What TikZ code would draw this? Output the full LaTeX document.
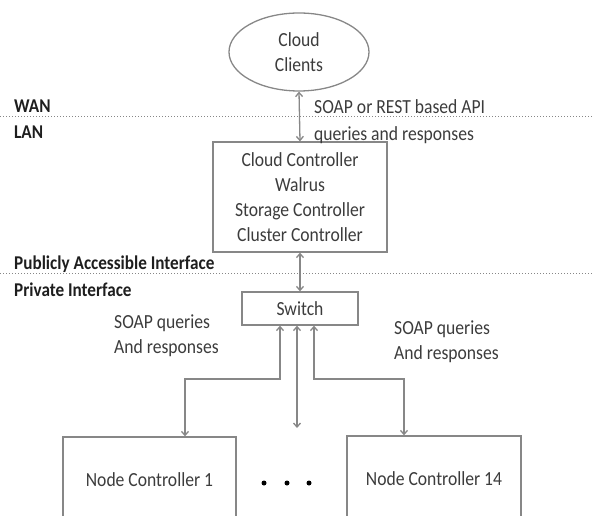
\documentclass[tikz,border=0pt]{standalone}
\usepackage{fontspec}
\setmainfont{Carlito}[FakeStretch=0.88]
\usetikzlibrary{arrows.meta,shapes.geometric}
\definecolor{linec}{RGB}{135,135,135}
\definecolor{textc}{RGB}{60,60,60}
\definecolor{labc}{RGB}{30,30,30}
\begin{document}
\begin{tikzpicture}[x=1pt,y=-1pt,
  every node/.style={font=\fontsize{20}{25}\selectfont, text=textc, inner sep=0pt},
  boxnode/.style={draw=linec, line width=1.3pt, align=center},
  lab/.style={anchor=west, font=\bfseries\fontsize{19.5}{22}\selectfont, text=labc},
  note/.style={anchor=west, align=left},
  conn/.style={draw=linec, line width=1.3pt, {Straight Barb[length=4pt,width=7pt]}-{Straight Barb[length=4pt,width=7pt]}},
  sep/.style={draw=linec, line width=1pt, dotted}]
\useasboundingbox (0,0) rectangle (592,516);
\clip (0,0) rectangle (592,516);
% dotted separators
\draw[sep] (0,117) -- (592,117);
\draw[sep] (0,273) -- (592,273);
% region labels
\node[lab] (wan) at (14,106) {WAN};
\node[lab] (lan) at (14,132) {LAN};
\node[lab] (pub) at (14,264) {Publicly Accessible Interface};
\node[lab] (priv) at (14,290) {Private Interface};
% nodes
\node[boxnode, ellipse, minimum width=140, minimum height=78] (clients) at (299,52) {Cloud\\Clients};
\node[boxnode, minimum width=174, minimum height=110] (cc) at (300,197) {Cloud Controller\\Walrus\\Storage Controller\\Cluster Controller};
\node[boxnode, minimum width=116, minimum height=33] (sw) at (300,308.5) {Switch};
\node[boxnode, minimum width=173, minimum height=86] (nc1) at (149.5,480) {Node Controller 1};
\node[boxnode, minimum width=174, minimum height=86] (nc14) at (434,479) {Node Controller 14};
% dots
\node[circle, fill=black, minimum size=5pt] (d1) at (264,483) {};
\node[circle, fill=black, minimum size=5pt] (d2) at (287,483) {};
\node[circle, fill=black, minimum size=5pt] (d3) at (309,483) {};
% annotations
\node[note] (api) at (314,107) {SOAP or REST based API};
\node[note] (api2) at (314,135) {queries and responses};
\node[note] (sq1) at (114,336) {SOAP queries\\And responses};
\node[note] (sq2) at (394,342) {SOAP queries\\And responses};
% connectors
\draw[conn] (clients.south) -- (cc.north);
\draw[conn] (cc.south) -- (sw.north);
\coordinate (swl) at (280,0);
\coordinate (swm) at (297,0);
\coordinate (swr) at (314,0);
\coordinate (mid) at (297,428);
\draw[conn] (sw.south -| swl) -- (280,379) -- (185,379) -- (nc1.north -| 185,0);
\draw[conn] (sw.south -| swm) -- (mid);
\draw[conn] (sw.south -| swr) -- (314,379) -- (404,379) -- (nc14.north -| 404,0);
\end{tikzpicture}
\end{document}
